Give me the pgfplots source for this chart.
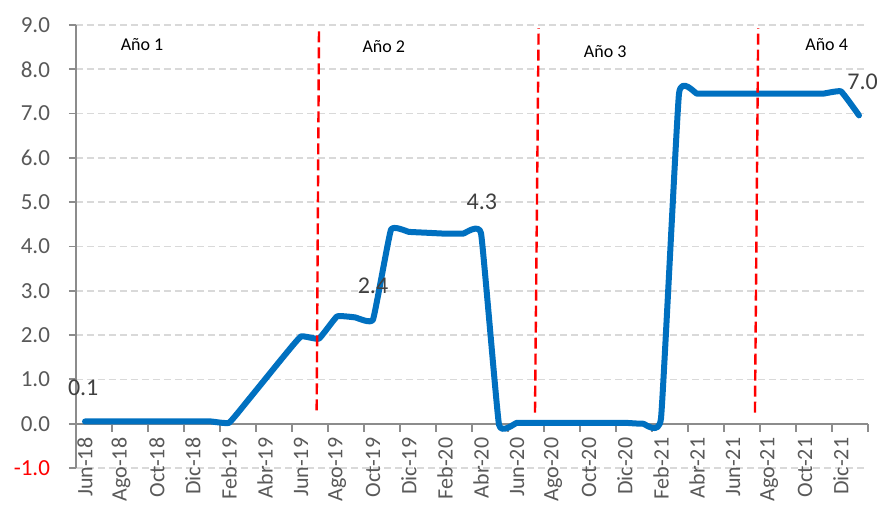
\documentclass[border=0pt]{standalone}
\usepackage{pgfplots}
\pgfplotsset{compat=1.18}
\usepackage{fontspec}
\setmainfont{Carlito}
\definecolor{lineblue}{HTML}{0070C0}
\definecolor{txtgray}{HTML}{595959}
\definecolor{lblgray}{HTML}{404040}
\definecolor{gridgray}{HTML}{D9D9D9}
\definecolor{axgray}{HTML}{8C8C8C}
\begin{document}
\begin{tikzpicture}
\useasboundingbox (-38pt,-19pt) rectangle (400.5pt,234pt);
\begin{axis}[
  at={(0,0)}, anchor=south west,
  scale only axis, width=396pt, height=221.5pt,
  xmin=-0.5, xmax=43.5, ymin=-1, ymax=9,
  axis x line=middle, axis y line=left,
  axis line style={-, axgray, line width=0.9pt},
  clip=false,
  xtick={0,2,...,42},
  xticklabels={Jun-18,Ago-18,Oct-18,Dic-18,Feb-19,Abr-19,Jun-19,Ago-19,Oct-19,Dic-19,Feb-20,Abr-20,Jun-20,Ago-20,Oct-20,Dic-20,Feb-21,Abr-21,Jun-21,Ago-21,Oct-21,Dic-21},
  minor xtick={-0.5,1.5,...,43.5},
  major x tick style={draw=none},
  minor x tick style={axgray, line width=0.9pt},
  minor tick length=4pt,
  major tick length=3.5pt,
  tick align=outside,
  ytick={-1,0,...,9},
  yticklabels={{\color{red}-1.0},0.0,1.0,2.0,3.0,4.0,5.0,6.0,7.0,8.0,9.0},
  major y tick style={axgray, line width=0.9pt},
  ymajorgrids,
  major grid style={gridgray, dash pattern=on 3.5pt off 2pt, line width=0.8pt},
  x tick label style={rotate=90, anchor=east, font=\fontsize{11}{13}\selectfont, text=txtgray},
  y tick label style={font=\fontsize{11.5}{13}\selectfont, text=txtgray, xshift=-6pt},
]
\addplot[lineblue, line width=3pt, smooth, tension=0.2, line cap=round, line join=round] coordinates {
(0,0.05) (1,0.05) (2,0.05) (3,0.05) (4,0.05) (5,0.05) (6,0.05) (7,0.05)
(8,0.02) (9,0.5) (10,1.0) (11,1.5) (12,1.97) (13,1.92) (14,2.42) (15,2.40)
(16,2.35) (17,4.38) (18,4.33) (19,4.31) (20,4.29) (21,4.29) (22,4.3) (23,-0.02)
(24,0.02) (25,0.02) (26,0.02) (27,0.02) (28,0.02) (29,0.02) (30,0.02) (31,0.0)
(32,0.12) (33,7.45) (34,7.45) (35,7.45) (36,7.45) (37,7.45) (38,7.45) (39,7.45)
(40,7.45) (41,7.45) (42,7.5) (43,6.96)
};
\addplot[red, line width=1.2pt, dash pattern=on 5.5pt off 2.5pt] coordinates {(12.87,0.3) (13.0,8.93)};
\addplot[red, line width=1.2pt, dash pattern=on 5.5pt off 2.5pt] coordinates {(25.0,0.25) (25.2,8.93)};
\addplot[red, line width=1.2pt, dash pattern=on 5.5pt off 2.5pt] coordinates {(37.22,0.25) (37.4,8.93)};
\node[font=\fontsize{12}{14}\selectfont, text=lblgray] at (axis cs:-0.1,0.81) {0.1};
\node[font=\fontsize{12}{14}\selectfont, text=lblgray] at (axis cs:16.0,3.12) {2.4};
\node[font=\fontsize{12}{14}\selectfont, text=lblgray] at (axis cs:22.05,5.01) {4.3};
\node[font=\fontsize{12}{14}\selectfont, text=lblgray] at (axis cs:43.2,7.72) {7.0};
\node[font=\fontsize{9}{11}\selectfont] at (axis cs:3.17,8.56) {Año 1};
\node[font=\fontsize{9}{11}\selectfont] at (axis cs:16.6,8.51) {Año 2};
\node[font=\fontsize{9}{11}\selectfont] at (axis cs:28.9,8.4) {Año 3};
\node[font=\fontsize{9}{11}\selectfont] at (axis cs:41.2,8.56) {Año 4};
\end{axis}
\end{tikzpicture}
\end{document}
